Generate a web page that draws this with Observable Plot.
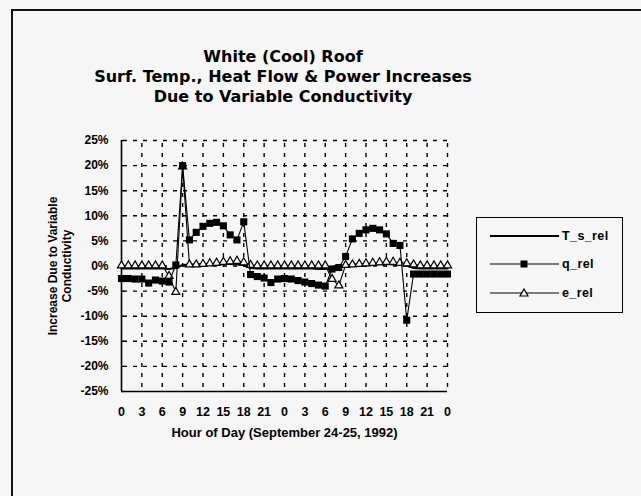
<!DOCTYPE html>
<html><head><meta charset="utf-8">
<script src="https://cdn.jsdelivr.net/npm/d3@7"></script>
<script src="https://cdn.jsdelivr.net/npm/@observablehq/plot@0.6"></script>
<style>
body{margin:0;background:#f6f6f6;}
#wrap{position:relative;width:641px;height:496px;overflow:hidden;background:#f6f6f6;font-family:"Liberation Sans",Arial,sans-serif;}
#frame{position:absolute;left:11px;top:9px;width:700px;height:600px;border-left:2px solid #111;border-top:2px solid #111;}
#title{position:absolute;left:0;width:566px;top:47px;text-align:center;font:bold 16px "DejaVu Sans",sans-serif;line-height:20px;color:#000;}
#chart{position:absolute;left:0;top:0;}
#legend{position:absolute;left:476px;top:217px;width:145px;height:94px;border:1.5px solid #000;}
#legend text{font:bold 12.5px "Liberation Sans",Arial,sans-serif;letter-spacing:0.4px;}
</style></head>
<body><div id="wrap">
<div id="frame"></div>
<div id="chart"></div>
<div id="title">White (Cool) Roof<br>Surf. Temp., Heat Flow &amp; Power Increases<br>Due to Variable Conductivity</div>
<div id="legend"><svg width="145" height="94">
<line x1="13" x2="82" y1="18" y2="18" stroke="#000" stroke-width="2.2"/>
<text x="85" y="22">T_s_rel</text>
<line x1="13" x2="82" y1="46" y2="46" stroke="#000" stroke-width="1.2"/>
<rect x="43.5" y="42.5" width="7" height="7" fill="#000"/>
<text x="85" y="50">q_rel</text>
<line x1="13" x2="82" y1="75" y2="75" stroke="#000" stroke-width="1.2"/>
<path d="M47,71 L51,78 L43,78 Z" fill="#f6f6f6" stroke="#000" stroke-width="1.2"/>
<text x="85" y="79">e_rel</text>
</svg></div>
</div>
<script>
const hours = [0,1,2,3,4,5,6,7,8,9,10,11,12,13,14,15,16,17,18,19,20,21,22,23,24,25,26,27,28,29,30,31,32,33,34,35,36,37,38,39,40,41,42,43,44,45,46,47,48];
const T_s_rel = [-0.5,-0.5,-0.5,-0.5,-0.5,-0.5,-0.5,-0.6,-0.4,0.2,0.3,0.3,0.4,0.4,0.4,0.4,0.4,0.3,0.2,-0.4,-0.5,-0.5,-0.5,-0.5,-0.5,-0.5,-0.5,-0.5,-0.5,-0.6,-0.6,-0.6,-0.4,0.1,0.3,0.3,0.4,0.4,0.4,0.4,0.3,0.3,0.1,-0.4,-0.5,-0.5,-0.5,-0.5,-0.5];
const q_rel = [-2.5,-2.5,-2.6,-2.6,-3.4,-2.8,-3.0,-3.2,0.2,20.0,5.2,6.7,7.9,8.5,8.7,8.0,6.2,5.2,8.8,-1.7,-2.1,-2.4,-3.3,-2.6,-2.5,-2.6,-2.9,-3.2,-3.5,-3.8,-4.0,-0.6,-0.3,1.9,5.4,6.5,7.2,7.5,7.2,6.4,4.5,4.1,-10.8,-1.6,-1.6,-1.6,-1.6,-1.6,-1.6];
const e_rel = [0.1,0.1,0.1,0.1,0.1,0.1,0.1,-2.0,-5.2,19.8,0.3,0.3,0.4,0.5,0.6,0.8,0.9,1.0,0.7,0.2,0.1,0.1,0.1,0.1,0.1,0.1,0.1,0.1,0.1,0.1,0.1,-2.6,-3.9,0.2,0.3,0.4,0.5,0.6,0.7,0.8,0.8,0.6,0.5,0.3,0.1,0.1,0.1,0.1,0.1];
const xTicks = [0,3,6,9,12,15,18,21,24,27,30,33,36,39,42,45,48];
const xTickLabels = ["0","3","6","9","12","15","18","21","0","3","6","9","12","15","18","21","0"];
const yTicks = [-25,-20,-15,-10,-5,0,5,10,15,20,25];
const xTitle = "Hour of Day (September 24-25, 1992)";
const yTitle = "Increase Due to Variable\nConductivity";

const rows = (vals) => hours.map((h,i)=>({h, v: vals[i]}));
const tRows = rows(T_s_rel), qRows = rows(q_rel), eRows = rows(e_rel);
const grid = {stroke:"#000", strokeOpacity:1, strokeWidth:1.4, strokeDasharray:"4,6"};

const chart = Plot.plot({
  width:641, height:496,
  marginLeft:121, marginRight:194, marginTop:140, marginBottom:105,
  x:{type:"linear", domain:[0,48]},
  y:{type:"linear", domain:[-25,25]},
  style:{background:"transparent", fontFamily:"'Liberation Sans', Arial, sans-serif", fontWeight:"bold", fontSize:"12px", color:"#000"},
  marks:[
    Plot.gridY(yTicks.slice(1), {...grid, strokeDashoffset:-2}),
    Plot.gridX(xTicks.slice(1), {...grid, strokeDashoffset:-3}),
    Plot.axisY(yTicks, {tickFormat:d=>d+"%", tickSize:0, tickPadding:13, label:null, fontWeight:"bold", fontSize:12}),
    Plot.axisX(xTicks, {tickFormat:d=>xTickLabels[xTicks.indexOf(d)], tickSize:0, tickPadding:16, label:null, fontWeight:"bold", fontSize:12.5}),
    Plot.ruleX([0], {stroke:"#000", strokeWidth:1.6}),
    Plot.ruleY([-25], {stroke:"#000", strokeWidth:1.6}),
    Plot.ruleY(yTicks, {x1:0, x2:0.5, stroke:"#000", strokeWidth:1.2}),
    Plot.line(tRows, {x:"h", y:"v", stroke:"#000", strokeWidth:2.2}),
    Plot.line(eRows, {x:"h", y:"v", stroke:"#000", strokeWidth:1.1}),
    Plot.dot(eRows, {x:"h", y:"v", symbol:"triangle", r:3, fill:"#f6f6f6", stroke:"#000", strokeWidth:1.2}),
    Plot.line(qRows, {x:"h", y:"v", stroke:"#000", strokeWidth:1.1}),
    Plot.dot(qRows, {x:"h", y:"v", symbol:"square", r:4, fill:"#000", stroke:"none"}),
    Plot.text([xTitle], {frameAnchor:"bottom", dy:41, lineAnchor:"middle", fontSize:13, fontWeight:"bold", fill:"#000"}),
    Plot.text([yTitle], {frameAnchor:"left", dx:-62, rotate:-90, lineAnchor:"middle", textAnchor:"middle", fontSize:12, fontWeight:"bold", fill:"#000", lineHeight:1.15})
  ]
});
document.getElementById("chart").appendChild(chart);
</script>
</body></html>
